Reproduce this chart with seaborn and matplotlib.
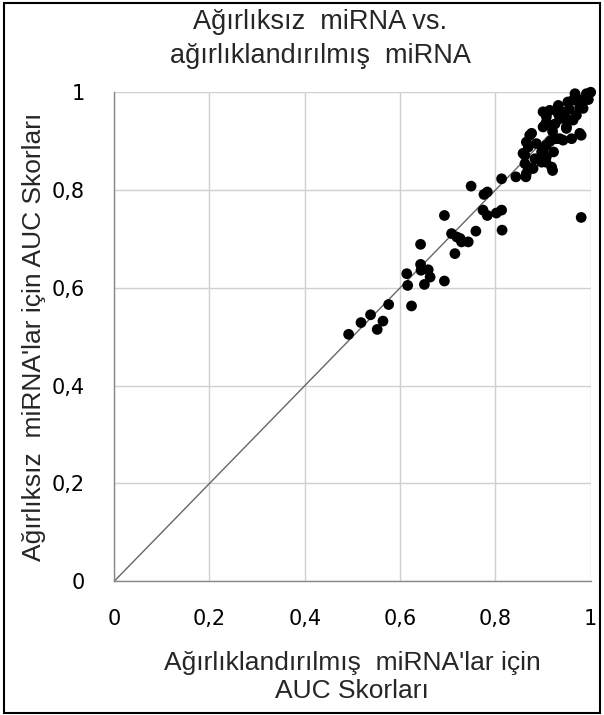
import numpy as np
import pandas as pd
import matplotlib.pyplot as plt
import seaborn as sns
from matplotlib.patches import Rectangle
from matplotlib.ticker import FuncFormatter

sns.set_theme(style="whitegrid")
plt.rcParams['font.family'] = ['Liberation Sans', 'DejaVu Sans']

# AUC scores (x: weighted, y: unweighted)
weighted_auc = [
    0.492, 0.518, 0.538, 0.564, 0.552, 0.576,
    0.614, 0.616, 0.624, 0.643, 0.644, 0.659, 0.663, 0.651, 0.693, 0.715,
    0.643, 0.693, 0.708, 0.719, 0.729, 0.743, 0.726, 0.759, 0.749, 0.776,
    0.783, 0.774, 0.783, 0.802, 0.813, 0.814, 0.813,
    0.843, 0.864, 0.869, 0.906, 0.920, 0.980,
    0.902, 0.907, 0.858, 0.869, 0.883, 0.897, 0.886, 0.900,
    0.865, 0.865, 0.876, 0.897, 0.907, 0.914, 0.907, 0.904, 0.932, 0.949,
    0.952, 0.967, 0.977, 0.991, 1.000, 0.942, 0.928, 0.963, 0.977, 0.987,
    0.862, 0.862, 0.872, 0.900, 0.907, 0.900, 0.918, 0.935, 0.960, 0.980,
    0.963, 0.949, 0.935, 0.970, 0.984, 0.949, 0.932, 0.922, 0.879, 0.920,
    0.940, 0.955, 0.925, 0.915, 0.990, 0.995, 0.975,
]
unweighted_auc = [
    0.505, 0.529, 0.545, 0.532, 0.515, 0.566,
    0.629, 0.605, 0.563, 0.648, 0.636, 0.637, 0.622, 0.607, 0.614, 0.670,
    0.689, 0.748, 0.711, 0.704, 0.694, 0.694, 0.701, 0.716, 0.808, 0.791,
    0.796, 0.759, 0.748, 0.753, 0.759, 0.718, 0.823,
    0.827, 0.827, 0.847, 0.857, 0.840, 0.744,
    0.861, 0.868, 0.875, 0.888, 0.864, 0.857, 0.895, 0.881,
    0.834, 0.898, 0.916, 0.878, 0.892, 0.963, 0.950, 0.933, 0.956, 0.929,
    0.980, 0.997, 0.916, 0.997, 1.000, 0.902, 0.905, 0.943, 0.970, 0.984,
    0.854, 0.871, 0.912, 0.960, 0.939, 0.929, 0.847, 0.905, 0.905, 0.912,
    0.984, 0.946, 0.946, 0.953, 0.967, 0.926, 0.973, 0.878, 0.844, 0.920,
    0.960, 0.965, 0.935, 0.900, 0.990, 0.985, 0.985,
]
tick_values = [0, 0.2, 0.4, 0.6, 0.8, 1]

df = pd.DataFrame({'weighted': weighted_auc, 'unweighted': unweighted_auc})

fig = plt.figure(figsize=(6.04, 7.15), dpi=100)
ax = fig.add_axes([0.189, 0.187, 0.789, 0.684])

ax.plot([0, 1], [0, 1], color='#666666', lw=1, zorder=2)
sns.scatterplot(data=df, x='weighted', y='unweighted', ax=ax, color='black',
                s=60, edgecolor='none', zorder=3, clip_on=False)

ax.set_xlim(0, 1)
ax.set_ylim(0, 1)
ax.set_xticks(tick_values)
ax.set_yticks(tick_values)
fmt = FuncFormatter(lambda v, _: f'{v:g}'.replace('.', ','))
ax.xaxis.set_major_formatter(fmt)
ax.yaxis.set_major_formatter(fmt)
ax.grid(True, color='#d0d0d0', lw=1)
for side in ['top', 'right']:
    ax.spines[side].set_visible(False)
for side in ['left', 'bottom']:
    ax.spines[side].set_color('#888888')
    ax.spines[side].set_linewidth(1)
ax.tick_params(axis='both', length=6, width=1, color='#888888', direction='out',
               labelsize=15, labelcolor='black')
ax.tick_params(axis='x', pad=14)
ax.tick_params(axis='y', pad=15)
for lab in ax.get_xticklabels() + ax.get_yticklabels():
    lab.set_family('DejaVu Sans')
ax.set_facecolor('white')

fig.text(0.53, 0.946, 'Ağırlıksız  miRNA vs.\nağırlıklandırılmış  miRNA', fontsize=19.5,
         linespacing=1.4, ha='center', va='center')
ax.set_xlabel("Ağırlıklandırılmış  miRNA'lar için\nAUC Skorları", fontsize=19,
              linespacing=1.22, labelpad=16)
ax.set_ylabel("Ağırlıksız  miRNA'lar için AUC Skorları", fontsize=19)
ax.yaxis.set_label_coords(-0.142, 0.5)

fig.patches.append(Rectangle((0.006, 0.003), 0.988, 0.993, transform=fig.transFigure,
                             fill=False, edgecolor='black', lw=1.5))

plt.savefig('out.png', dpi=100)
plt.close()
